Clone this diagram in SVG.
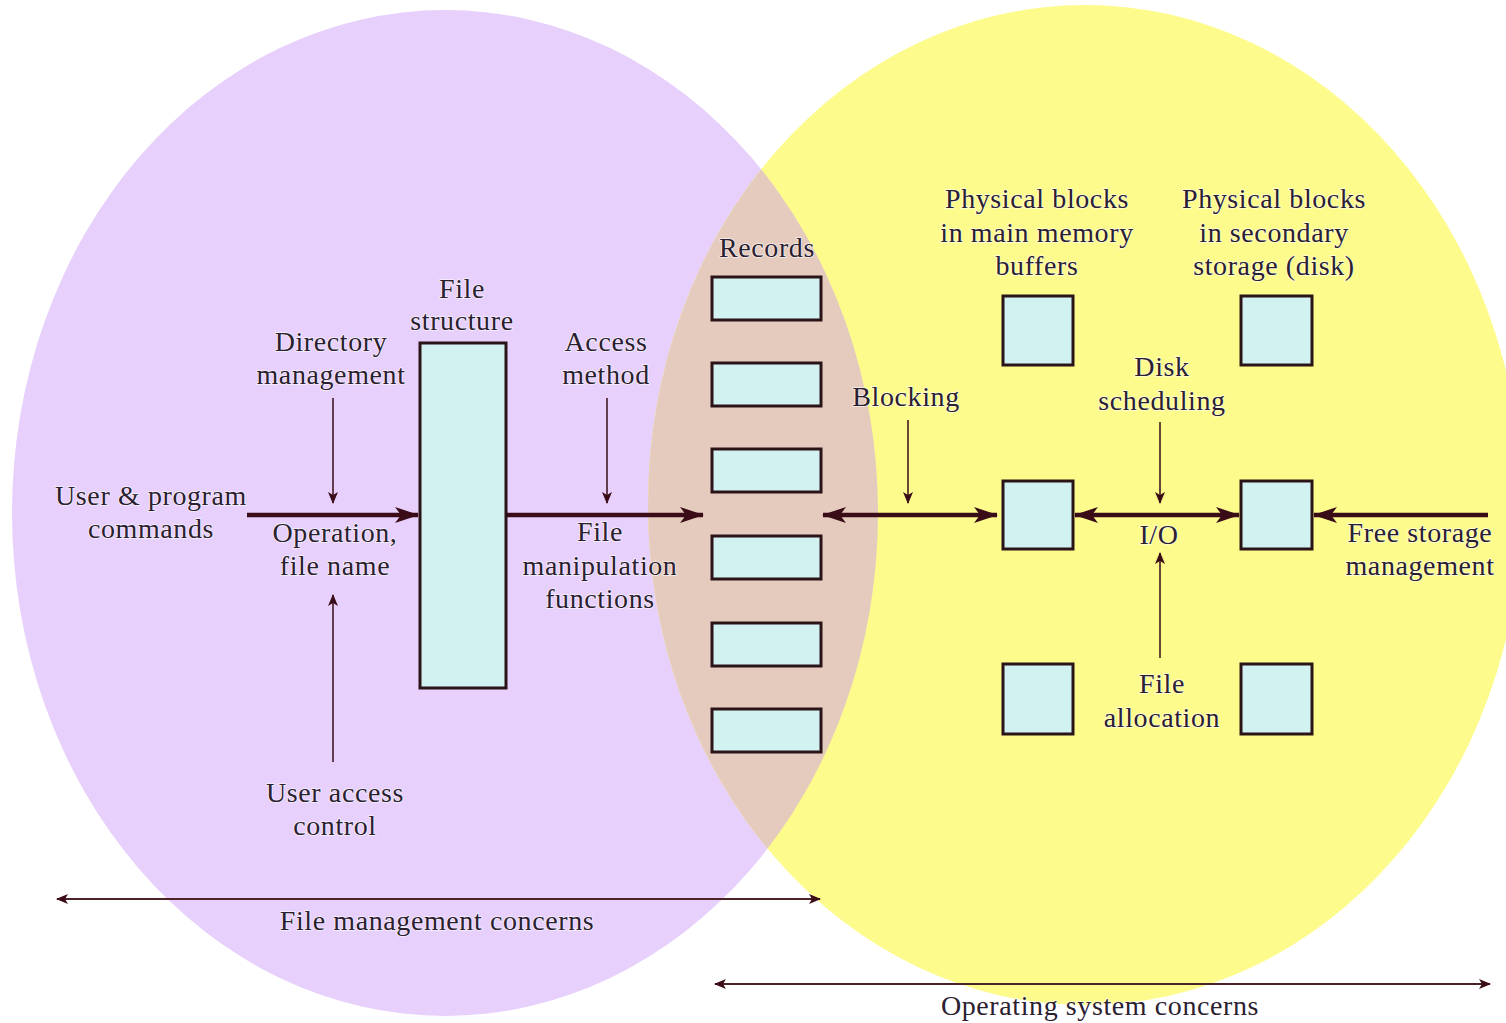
<svg xmlns="http://www.w3.org/2000/svg" width="1506" height="1023" viewBox="0 0 1506 1023">
<style>
text{font-family:"Liberation Serif","Times New Roman",serif;font-size:28px;letter-spacing:0.6px;fill:#2a2030;text-anchor:middle;stroke:#ffffff;stroke-width:1.6;stroke-opacity:0.7;paint-order:stroke}
.box{fill:#d2f1f1;stroke:#2a1418;stroke-width:3}
.thick{stroke:#3a0c18;stroke-width:4.5;fill:none}
.thin{stroke:#3a0c18;stroke-width:1.5;fill:none}
.bot{stroke:#4a2228;stroke-width:2;fill:none}
</style>
<defs>
<marker id="ah" viewBox="0 0 12 10" refX="11" refY="5" markerWidth="12" markerHeight="10" markerUnits="userSpaceOnUse" orient="auto-start-reverse">
<path d="M0,0 L12,5 L0,10 L3,5 Z" fill="#3a0c18"/>
</marker>
<marker id="big" viewBox="0 0 24 16" refX="23" refY="8" markerWidth="24" markerHeight="16" markerUnits="userSpaceOnUse" orient="auto-start-reverse">
<path d="M0,0 L24,8 L0,16 L6,8 Z" fill="#3a0c18"/>
</marker>
<clipPath id="clipY"><ellipse cx="1085" cy="505" rx="437" ry="500"/></clipPath>
</defs>
<rect width="1506" height="1023" fill="#ffffff"/>
<g id="regions">
<ellipse cx="445" cy="513" rx="433" ry="503" fill="#e7d0fb"/>
<ellipse cx="1085" cy="505" rx="437" ry="500" fill="#fdfb8c"/>
<ellipse cx="445" cy="513" rx="433" ry="503" fill="#e5cbbe" clip-path="url(#clipY)"/>
</g>
<g id="connectors">
<line class="thick" x1="247" y1="515" x2="418" y2="515" marker-end="url(#big)"/>
<line class="thick" x1="507" y1="515" x2="703" y2="515" marker-end="url(#big)"/>
<line class="thick" x1="823" y1="515" x2="997" y2="515" marker-start="url(#big)" marker-end="url(#big)"/>
<line class="thick" x1="1075" y1="515" x2="1239" y2="515" marker-start="url(#big)" marker-end="url(#big)"/>
<line class="thick" x1="1488" y1="515" x2="1314" y2="515" marker-end="url(#big)"/>
<line class="thin" x1="333" y1="398" x2="333" y2="503" marker-end="url(#ah)"/>
<line class="thin" x1="607" y1="398" x2="607" y2="503" marker-end="url(#ah)"/>
<line class="thin" x1="908" y1="420" x2="908" y2="503" marker-end="url(#ah)"/>
<line class="thin" x1="1160" y1="422" x2="1160" y2="503" marker-end="url(#ah)"/>
<line class="thin" x1="333" y1="762" x2="333" y2="595" marker-end="url(#ah)"/>
<line class="thin" x1="1160" y1="658" x2="1160" y2="553" marker-end="url(#ah)"/>
<line class="bot" x1="57" y1="899" x2="820" y2="899" marker-start="url(#ah)" marker-end="url(#ah)"/>
<line class="bot" x1="715" y1="984" x2="1490" y2="984" marker-start="url(#ah)" marker-end="url(#ah)"/>
</g>
<g id="file-structure"><rect class="box" x="420" y="343" width="86" height="345"/></g>
<g id="records">
<rect class="box" x="712" y="277" width="109" height="43"/>
<rect class="box" x="712" y="363" width="109" height="43"/>
<rect class="box" x="712" y="449" width="109" height="43"/>
<rect class="box" x="712" y="536" width="109" height="43"/>
<rect class="box" x="712" y="623" width="109" height="43"/>
<rect class="box" x="712" y="709" width="109" height="43"/>
</g>
<g id="main-memory-blocks">
<rect class="box" x="1003" y="296" width="70" height="69"/>
<rect class="box" x="1003" y="481" width="70" height="68"/>
<rect class="box" x="1003" y="664" width="70" height="70"/>
</g>
<g id="secondary-blocks">
<rect class="box" x="1241" y="296" width="71" height="69"/>
<rect class="box" x="1241" y="481" width="71" height="68"/>
<rect class="box" x="1241" y="664" width="71" height="70"/>
</g>
<g id="labels">
<text x="151" y="505">User &amp; program</text>
<text x="151" y="538">commands</text>
<text x="335" y="542">Operation,</text>
<text x="335" y="575">file name</text>
<text x="462" y="298">File</text>
<text x="462" y="330">structure</text>
<text x="331" y="351">Directory</text>
<text x="331" y="384">management</text>
<text x="606" y="351">Access</text>
<text x="606" y="384">method</text>
<text x="600" y="541">File</text>
<text x="600" y="575">manipulation</text>
<text x="600" y="608">functions</text>
<text x="767" y="257">Records</text>
<text x="1037" y="208">Physical blocks</text>
<text x="1037" y="242">in main memory</text>
<text x="1037" y="275">buffers</text>
<text x="1274" y="208">Physical blocks</text>
<text x="1274" y="242">in secondary</text>
<text x="1274" y="275">storage (disk)</text>
<text x="906" y="406">Blocking</text>
<text x="1162" y="376">Disk</text>
<text x="1162" y="410">scheduling</text>
<text x="1159" y="544">I/O</text>
<text x="1420" y="542">Free storage</text>
<text x="1420" y="575">management</text>
<text x="1162" y="693">File</text>
<text x="1162" y="727">allocation</text>
<text x="335" y="802">User access</text>
<text x="335" y="835">control</text>
<text x="437" y="930">File management concerns</text>
<text x="1100" y="1015">Operating system concerns</text>
</g>
</svg>
